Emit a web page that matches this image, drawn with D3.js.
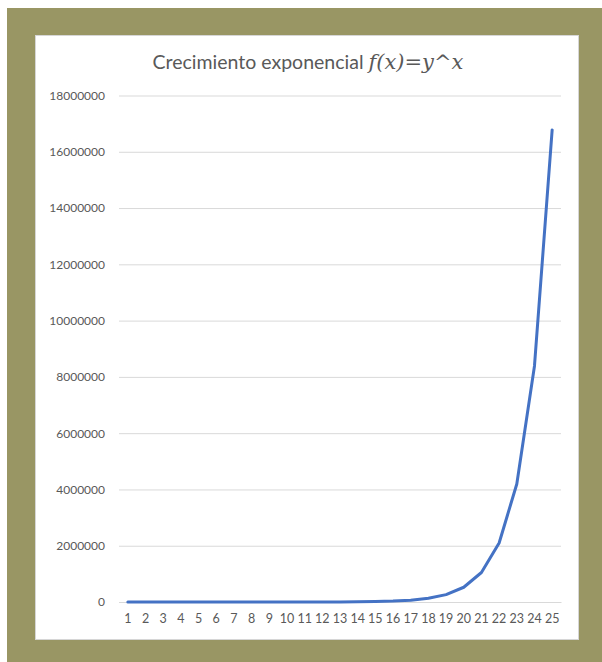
<!DOCTYPE html>
<html>
<head>
<meta charset="utf-8">
<script src="https://cdn.jsdelivr.net/npm/d3@7"></script>
<style>
  html, body { margin: 0; padding: 0; background: #ffffff; }
  svg { display: block; }
</style>
</head>
<body>
<svg id="chart" width="602" height="662"></svg>
<script>
// Exponential growth values, one per x category
const categories = ["1","2","3","4","5","6","7","8","9","10","11","12","13","14","15","16","17","18","19","20","21","22","23","24","25"];
const values = [1, 2, 4, 8, 16, 32, 64, 128, 256, 512, 1024, 2048, 4096, 8192, 16384, 32768,
                65536, 131072, 262144, 524288, 1048576, 2097152, 4194304, 8388608, 16777216];
const yTicks = [0, 2000000, 4000000, 6000000, 8000000, 10000000, 12000000, 14000000, 16000000, 18000000];
const titleText = "Crecimiento exponencial ";
const titleMath = "f(x)=y^x";

const svg = d3.select("#chart");

// olive frame and white chart panel
svg.append("rect").attr("x", 7).attr("y", 8).attr("width", 595).attr("height", 654).attr("fill", "#999664");
svg.append("rect").attr("x", 35.5).attr("y", 35.5).attr("width", 543).attr("height", 604)
  .attr("fill", "#ffffff").attr("stroke", "#d6d6d6").attr("stroke-width", 1);

const plot = { left: 119, right: 561, top: 95.5, bottom: 602 };

const x = d3.scaleBand().domain(categories).range([plot.left, plot.right]);
const y = d3.scaleLinear().domain([0, 18000000]).range([plot.bottom, plot.top]);

// horizontal gridlines + value labels
const yAxis = d3.axisLeft(y).tickValues(yTicks).tickSize(-(plot.right - plot.left)).tickPadding(14)
  .tickFormat(d3.format("d"));
const gy = svg.append("g").attr("transform", `translate(${plot.left},0)`).call(yAxis);
gy.select(".domain").remove();
gy.selectAll(".tick line").attr("stroke", "#d9d9d9").attr("stroke-width", 1);
gy.selectAll(".tick text").attr("fill", "#595959").attr("font-family", "Lato, 'Open Sans', sans-serif")
  .attr("font-size", 12);

// category axis
const xAxis = d3.axisBottom(x).tickSize(0).tickPadding(12);
const gx = svg.append("g").attr("transform", `translate(0,${plot.bottom})`).call(xAxis);
gx.select(".domain").attr("stroke", "#d9d9d9");
gx.selectAll(".tick text").attr("fill", "#595959").attr("font-family", "Lato, 'Open Sans', sans-serif")
  .attr("font-size", 12.5);

// series line
const line = d3.line()
  .x((d, i) => x(categories[i]) + x.bandwidth() / 2)
  .y(d => y(d));
svg.append("path").datum(values).attr("d", line)
  .attr("fill", "none").attr("stroke", "#4472c4").attr("stroke-width", 3)
  .attr("stroke-linejoin", "round").attr("stroke-linecap", "round");

// title: plain text followed by the italic formula
const title = svg.append("text").attr("x", 308).attr("y", 69).attr("text-anchor", "middle")
  .attr("fill", "#595959").attr("font-size", 19.5);
title.append("tspan").attr("font-family", "Lato, 'Open Sans', sans-serif").text(titleText);
title.append("tspan").attr("font-family", "'DejaVu Serif', 'Liberation Serif', serif")
  .attr("font-style", "italic").attr("font-size", 21).text(titleMath);
</script>
</body>
</html>
